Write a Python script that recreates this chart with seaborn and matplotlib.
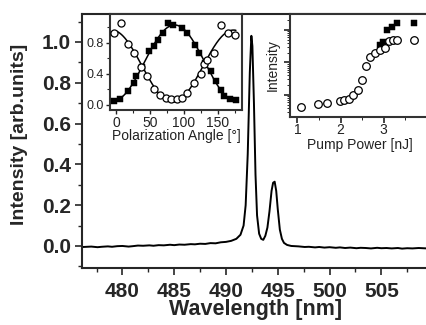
import numpy as np
import pandas as pd
import seaborn as sns
import matplotlib.pyplot as plt
from matplotlib.ticker import MultipleLocator, LogLocator, NullFormatter

# main spectrum
wavelength = [476.2, 477, 477.6, 478, 478.6, 479, 479.5, 480, 480.6, 481, 481.5, 482, 482.6, 483, 483.5,
              484, 484.6, 485, 485.5, 486, 486.6, 487, 487.5, 488, 488.5, 489, 489.5, 490, 490.5, 491,
              491.4, 491.7, 491.9, 492.1, 492.3, 492.45, 492.55, 492.7, 492.85, 493.0, 493.2, 493.4,
              493.6, 493.8, 494.0, 494.2, 494.4, 494.55, 494.7, 494.85, 495.0, 495.2, 495.4, 495.6,
              495.9, 496.3, 497, 497.6, 498, 498.6, 499, 499.5, 500, 500.6, 501, 501.5, 502, 502.6,
              503, 503.5, 504, 504.6, 505, 505.5, 506, 506.6, 507, 507.5, 508, 508.6, 509.4]
intensity = [-0.005, -0.003, -0.006, -0.004, -0.002, -0.004, -0.001, 0.0, -0.003, -0.001, 0.002, 0.001,
             0.003, 0.001, 0.004, 0.003, 0.006, 0.004, 0.007, 0.006, 0.009, 0.008, 0.011, 0.01, 0.014,
             0.013, 0.018, 0.02, 0.025, 0.035, 0.055, 0.1, 0.2, 0.45, 0.85, 1.03, 0.98, 0.7, 0.35, 0.15,
             0.06, 0.035, 0.03, 0.05, 0.09, 0.17, 0.27, 0.31, 0.315, 0.27, 0.18, 0.08, 0.035, 0.015,
             0.005, 0.0, -0.002, -0.005, -0.004, -0.007, -0.005, -0.008, -0.006, -0.009, -0.007, -0.01,
             -0.008, -0.011, -0.009, -0.01, -0.012, -0.009, -0.011, -0.01, -0.012, -0.01, -0.013, -0.011,
             -0.012, -0.01, -0.012]

# inset 1: polarization dependence
pol_angle_sq = [-3, 6, 17, 27, 29, 39, 48, 56, 62, 69, 77, 84, 97, 105, 117, 122, 132, 140, 147, 155, 160, 169, 177]
pol_sq = [0.04, 0.07, 0.18, 0.28, 0.37, 0.49, 0.69, 0.76, 0.84, 0.92, 1.05, 1.03, 0.99, 0.92, 0.77, 0.67,
          0.54, 0.43, 0.30, 0.19, 0.11, 0.07, 0.06]
pol_angle_ci = [-3, 7, 17, 27, 37, 45, 56, 65, 73, 81, 90, 97, 105, 115, 125, 130, 135, 145, 155, 166, 175]
pol_ci = [0.93, 1.06, 0.78, 0.67, 0.48, 0.37, 0.20, 0.13, 0.09, 0.07, 0.07, 0.09, 0.15, 0.28, 0.40, 0.52,
          0.58, 0.67, 1.03, 0.92, 0.90]

# inset 2: intensity vs pump power (log)
pump_ci = [1.08, 1.47, 1.68, 1.99, 2.09, 2.19, 2.30, 2.40, 2.50, 2.60, 2.69, 2.81, 2.91, 3.02, 3.12, 3.22, 3.31, 3.70]
int_ci = [0.42, 0.53, 0.55, 0.67, 0.70, 0.74, 1.0, 1.4, 2.9, 7.8, 15, 19, 24, 27, 47, 49, 49, 49]
pump_sq = [2.91, 2.99, 3.08, 3.20, 3.31, 3.70]
int_sq = [35, 44, 100, 126, 160, 160]

sns.set_style("ticks")
plt.rcParams['font.family'] = ['Liberation Sans', 'DejaVu Sans']
plt.rcParams['xtick.direction'] = 'out'
plt.rcParams['ytick.direction'] = 'out'

W, H = 426, 325
fig = plt.figure(figsize=(W / 100, H / 100), dpi=100)

def box(l, t, r, b):
    return [l / W, 1 - b / H, (r - l) / W, (b - t) / H]

ax = fig.add_axes(box(82, 14, 429, 268))
spec = pd.DataFrame({'wl': wavelength, 'I': intensity})
sns.lineplot(data=spec, x='wl', y='I', ax=ax, color='black', lw=1.4)
ax.set_xlim(476.1, 509.6)
ax.set_ylim(-0.108, 1.137)
ax.xaxis.set_minor_locator(MultipleLocator(2.5))
ax.yaxis.set_minor_locator(MultipleLocator(0.1))
ax.set_xticks([480, 485, 490, 495, 500, 505])
ax.set_yticks([0.0, 0.2, 0.4, 0.6, 0.8, 1.0])
ax.tick_params(which='major', length=5, width=1.2, labelsize=15, pad=3)
ax.tick_params(axis='x', pad=5)
ax.tick_params(which='minor', length=3, width=1.0)
for lab in ax.get_xticklabels() + ax.get_yticklabels():
    lab.set_fontweight('bold')
ax.set_xlabel('Wavelength [nm]', fontsize=15.5, fontweight='bold', labelpad=-1)
ax.set_ylabel('Intensity [arb.units]', fontsize=14, fontweight='bold')
ax.yaxis.set_label_coords(-0.157, 0.527)
for s in ax.spines.values():
    s.set_linewidth(1.5)

# inset 1
ax1 = fig.add_axes(box(110, 14, 242, 110))
def cos2_fit(a, v):
    t = np.radians(np.asarray(a, dtype=float))
    A = np.column_stack([np.ones_like(t), np.cos(2 * t), np.sin(2 * t)])
    c = np.linalg.lstsq(A, np.asarray(v), rcond=None)[0]
    tt = np.linspace(0, 177, 200)
    r = np.radians(tt)
    return tt, c[0] + c[1] * np.cos(2 * r) + c[2] * np.sin(2 * r)
fx, fy = cos2_fit(pol_angle_sq, pol_sq)
gx, gy = cos2_fit(pol_angle_ci, pol_ci)
sns.lineplot(x=fx, y=fy, ax=ax1, color='black', lw=1.1)
sns.lineplot(x=gx, y=gy, ax=ax1, color='black', lw=1.1)
sns.scatterplot(x=pol_angle_sq, y=pol_sq, ax=ax1, marker='s', s=16, color='black', edgecolor='black', zorder=3)
sns.scatterplot(x=pol_angle_ci, y=pol_ci, ax=ax1, marker='o', s=26, facecolor='white', edgecolor='black',
                linewidth=0.9, zorder=4)
ax1.set_xlim(-9, 186)
ax1.set_ylim(-0.07, 1.17)
ax1.set_xticks([0, 50, 100, 150])
ax1.xaxis.set_minor_locator(MultipleLocator(25))
ax1.set_yticks([0.0, 0.4, 0.8])
ax1.set_yticklabels(['0.0', '0.4', '0.8'])
ax1.yaxis.set_minor_locator(MultipleLocator(0.2))
ax1.tick_params(which='major', length=3, width=1, labelsize=10, pad=1.5, colors='#222222')
ax1.tick_params(which='minor', length=2, width=0.8)
ax1.tick_params(axis='y', labelsize=9)
ax1.set_xlabel('Polarization Angle [°]', fontsize=10, labelpad=-1, color='#222222')
for s in ax1.spines.values():
    s.set_linewidth(1.5)
    s.set_color('#333333')

# inset 2
ax2 = fig.add_axes(box(290, 14, 429, 117))
sns.scatterplot(x=pump_sq, y=int_sq, ax=ax2, marker='s', s=18, color='black', edgecolor='black', zorder=3)
sns.scatterplot(x=pump_ci, y=int_ci, ax=ax2, marker='o', s=30, facecolor='white', edgecolor='black',
                linewidth=0.9, zorder=4)
ax2.set_yscale('log')
ax2.set_xlim(0.83, 4.05)
ax2.set_ylim(0.21, 310)
ax2.set_xticks([1, 2, 3])
ax2.xaxis.set_minor_locator(MultipleLocator(0.5))
ax2.yaxis.set_major_locator(LogLocator(base=10, numticks=10))
ax2.yaxis.set_minor_locator(LogLocator(base=10, subs=np.arange(2, 10), numticks=10))
ax2.yaxis.set_major_formatter(NullFormatter())
ax2.yaxis.set_minor_formatter(NullFormatter())
ax2.tick_params(which='major', length=4, width=1.2, labelsize=10, pad=0.5, colors='#222222')
ax2.tick_params(which='minor', length=2, width=0.7)
ax2.set_xlabel('Pump Power [nJ]', fontsize=10, labelpad=0.5, color='#222222')
ax2.set_ylabel('Intensity', fontsize=10, labelpad=2, color='#222222')
for s in ax2.spines.values():
    s.set_linewidth(1.5)
    s.set_color('#333333')

fig.savefig('out.png', dpi=100)
